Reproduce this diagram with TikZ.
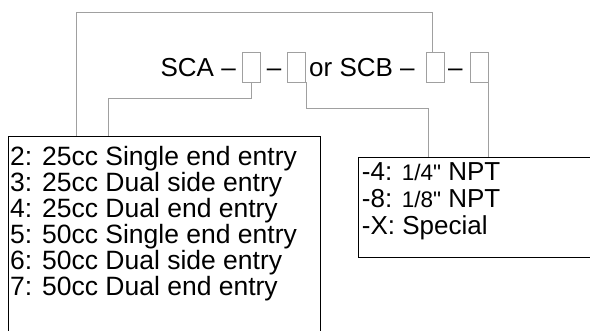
\documentclass[tikz,border=0pt]{standalone}
\usepackage{fontspec}
\setmainfont{Liberation Sans}[Ligatures=TeXOff]
\definecolor{linegray}{HTML}{A0A0A0}
\begin{document}
\begin{tikzpicture}[x=1pt,y=-1pt,
  conn/.style={draw=linegray, line width=0.9pt},
  slot/.style={draw=linegray, line width=0.9pt, minimum width=18pt, minimum height=30pt, inner sep=0pt},
  frame/.style={draw=black, line width=1pt, inner sep=0pt, anchor=north west},
  big/.style={anchor=base west, inner sep=0pt, font=\fontsize{26}{26}\selectfont},
  item/.style={anchor=base west, inner sep=0pt, font=\fontsize{26.5}{26}\selectfont},
  port/.style={anchor=base west, inner sep=0pt, font=\fontsize{26}{26}\selectfont}]
\useasboundingbox (0,0) rectangle (590,331);
\fill[white] (0,0) rectangle (590,331);

% code line
\node[big] (sca) at (160.4,77) {SCA –};
\node[slot] (s1) at (251,67) {};
\node[big] (d1) at (266.7,77) {–};
\node[slot] (s2) at (296.7,67) {};
\node[big] (scb) at (309,77) {or SCB –};
\node[slot] (s3) at (435,67) {};
\node[big] (d2) at (448,77) {–};
\node[slot] (s4) at (479,67) {};

% boxes
\node[frame, minimum width=312.5pt, minimum height=205pt] (list) at (7.5,136) {};
\node[frame, minimum width=240pt, minimum height=99.5pt] (ports) at (358,157.5) {};

% list text
\node[item] (l2) at (10,166) {2: 25cc Single end entry};
\node[item] (l3) at (10,192) {3: 25cc Dual side entry};
\node[item] (l4) at (10,218) {4: 25cc Dual end entry};
\node[item] (l5) at (10,244) {5: 50cc Single end entry};
\node[item] (l6) at (10,270) {6: 50cc Dual side entry};
\node[item] (l7) at (10,296) {7: 50cc Dual end entry};

\node[port] (p4) at (361.7,181) {-4: {\fontsize{22.5}{22}\selectfont 1/4"} NPT};
\node[port] (p8) at (361.7,208) {-8: {\fontsize{22.5}{22}\selectfont 1/8"} NPT};
\node[port] (px) at (361.7,235) {-X: Special};

% connectors
\coordinate (k1) at (108.3,98);
\coordinate (k3) at (76.7,12);
\coordinate (k2) at (428,108);
\draw[conn] (s1.south) |- (k1) -- (k1 |- list.north);
\draw[conn] ([xshift=-2.3pt]s3.north) |- (k3) -- (k3 |- list.north);
\draw[conn] (s2.south east) |- (k2) -- (k2 |- ports.north);
\draw[conn] (s4.south east) -- (s4.south east |- ports.north);
\end{tikzpicture}
\end{document}
